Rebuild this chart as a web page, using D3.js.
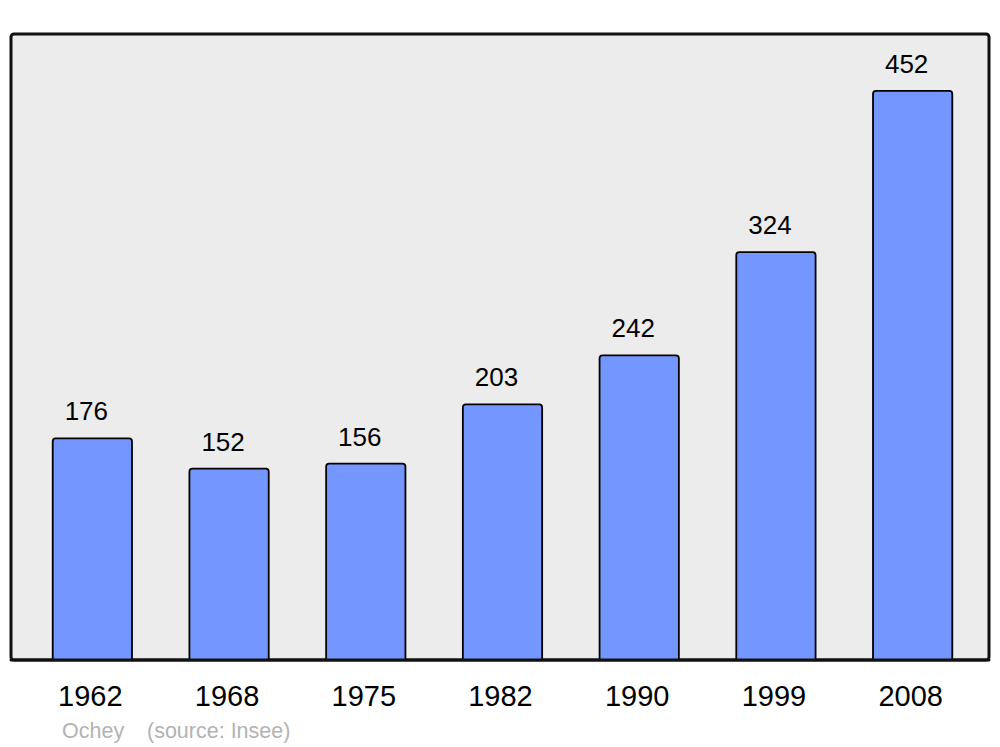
<!doctype html>
<html lang="en">
<head>
  <meta charset="utf-8">
  <title>Ochey population</title>
  <script src="https://cdn.jsdelivr.net/npm/d3@7"></script>
  <style>
    body{margin:0;background:#fff}
    text{font-family:"Liberation Sans",Arial,sans-serif}
  </style>
</head>
<body>
<div id="container"></div>
<script>
var years = ["1962", "1968", "1975", "1982", "1990", "1999", "2008"];
var population = [176, 152, 156, 203, 242, 324, 452];
var townName = "Ochey";
var sourceLabel = "(source: Insee)";

var width = 1000, height = 747,
    plot = {left: 11, right: 989, top: 34, bottom: 660};

var svg = d3.select("#container").append("svg")
    .attr("width", width).attr("height", height);

svg.append("rect")
    .attr("x", plot.left).attr("y", plot.top)
    .attr("width", plot.right - plot.left).attr("height", plot.bottom - plot.top)
    .attr("rx", 3).attr("ry", 3)
    .attr("fill", "#ececec").attr("stroke", "#111").attr("stroke-width", 3);

var x = d3.scaleBand().domain(years).range([24, 981]).paddingInner(0.42).paddingOuter(0.21);
var y = d3.scaleLinear().domain([0, d3.max(population) * 1.1]).range([plot.bottom, plot.top]);

var data = years.map(function (yr, i) { return {year: yr, value: population[i]}; });

// bars: rounded top, flat bottom
function barPath(d) {
    var x0 = x(d.year), x1 = x0 + x.bandwidth(), y0 = y(d.value), y1 = plot.bottom, r = 3;
    return "M" + x0 + "," + y1 + "V" + (y0 + r) + "Q" + x0 + "," + y0 + " " + (x0 + r) + "," + y0 +
        "H" + (x1 - r) + "Q" + x1 + "," + y0 + " " + x1 + "," + (y0 + r) + "V" + y1 + "Z";
}

svg.append("g").selectAll("path")
    .data(data).enter().append("path")
    .attr("d", barPath)
    .attr("fill", "#7397ff").attr("stroke", "#000").attr("stroke-width", 1.8);

svg.append("g").selectAll("text")
    .data(data).enter().append("text")
    .attr("x", function (d) { return x(d.year) + x.bandwidth() / 2 - 6; })
    .attr("y", function (d) { return y(d.value) - 18; })
    .attr("text-anchor", "middle").attr("font-size", 26).attr("fill", "#000")
    .text(function (d) { return d.value; });

// redraw bottom frame line over bar edges
svg.append("line")
    .attr("x1", plot.left).attr("x2", plot.right).attr("y1", plot.bottom).attr("y2", plot.bottom)
    .attr("stroke", "#111").attr("stroke-width", 3).attr("stroke-linecap", "round");

svg.append("g").selectAll("text")
    .data(years).enter().append("text")
    .attr("x", function (d) { return x(d) + x.bandwidth() / 2 - 2; })
    .attr("y", 706)
    .attr("text-anchor", "middle").attr("font-size", 29).attr("fill", "#000")
    .text(function (d) { return d; });

svg.append("text").attr("x", 62).attr("y", 738).attr("font-size", 21.5).attr("fill", "#b3b3b3").text(townName);
svg.append("text").attr("x", 147).attr("y", 738).attr("font-size", 21.5).attr("fill", "#b3b3b3").text(sourceLabel);
</script>
</body>
</html>
